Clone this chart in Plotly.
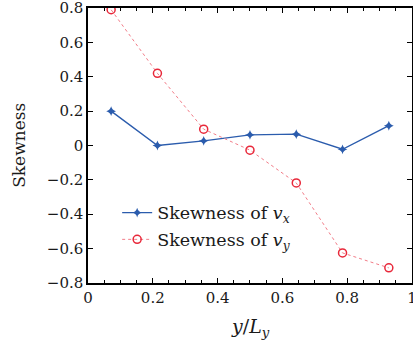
import plotly.graph_objects as go

x_pos = [0.0714, 0.2143, 0.3571, 0.5, 0.6429, 0.7857, 0.9286]
skew_vx = [0.20, 0.00, 0.027, 0.062, 0.066, -0.022, 0.115]
skew_vy = [0.79, 0.42, 0.095, -0.027, -0.218, -0.625, -0.712]
name_vx = "Skewness of <i>v<sub>x</sub></i>"
name_vy = "Skewness of <i>v<sub>y</sub></i>"
y_ticks = [0.8, 0.6, 0.4, 0.2, 0, -0.2, -0.4, -0.6, -0.8]
x_ticks = [0, 0.2, 0.4, 0.6, 0.8, 1]

FONT = "DejaVu Serif"

fig = go.Figure()
fig.add_trace(go.Scatter(
    x=x_pos, y=skew_vx, name=name_vx, mode="lines+markers",
    line=dict(color="#2b5cad", width=1.4),
    marker=dict(symbol="star-diamond", size=7, color="#2b5cad"),
    legendgroup="a"))
fig.add_trace(go.Scatter(
    x=x_pos, y=skew_vy, name=name_vy, mode="lines+markers",
    line=dict(color="#f27c88", width=1.0, dash="dot"),
    marker=dict(symbol="circle-open", size=8, color="#e8283a", line=dict(width=1.5)),
    legendgroup="b"))

axis_common = dict(
    showline=True, linecolor="black", linewidth=1.5, mirror="ticks",
    ticks="inside", ticklen=5, tickcolor="black", tickwidth=1,
    showgrid=False, zeroline=False, automargin=False,
    ticklabeloverflow="allow",
    tickfont=dict(family=FONT, size=15, color="#1a1a1a"),
)

fig.update_xaxes(range=[0, 1.0001], tickvals=x_ticks,
                 minor=dict(dtick=0.05, tick0=0, ticks="inside", ticklen=3, tickcolor="black"),
                 **axis_common)
fig.update_yaxes(range=[-0.8001, 0.8001], tickvals=y_ticks, **axis_common)

fig.add_annotation(text="<i>y</i>/<i>L<sub>y</sub></i>", xref="paper", yref="paper",
                   x=0.5, y=-0.11, xanchor="center", yanchor="top", showarrow=False,
                   font=dict(family=FONT, size=19, color="#1a1a1a"))
fig.add_annotation(text="Skewness", xref="paper", yref="paper",
                   x=-0.215, y=0.5, xanchor="center", yanchor="middle", showarrow=False,
                   textangle=-90, font=dict(family=FONT, size=17, color="#1a1a1a"))

fig.update_layout(
    width=413, height=340,
    margin=dict(l=88, r=1, t=8, b=57),
    plot_bgcolor="white", paper_bgcolor="white",
    legend=dict(x=0.09, y=0.321, xanchor="left", yanchor="top",
                bgcolor="rgba(0,0,0,0)", borderwidth=0, tracegroupgap=1,
                font=dict(family=FONT, size=17.5, color="#1a1a1a"), itemwidth=30),
)

fig.write_html("out.html", config={"displayModeBar": False},
               post_script="document.body.style.margin='0px';")
